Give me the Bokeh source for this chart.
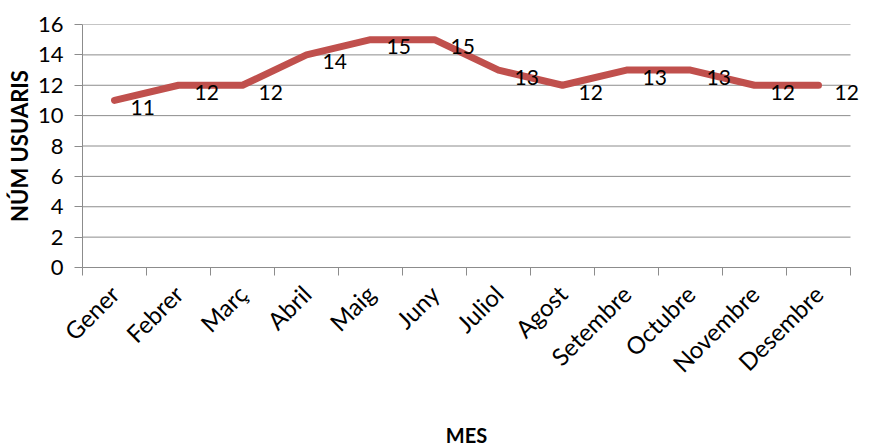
import numpy as np
from bokeh.plotting import figure
from bokeh.layouts import column
from bokeh.models import Range1d, FixedTicker, ColumnDataSource, LabelSet
from bokeh.core.properties import value
from bokeh.embed import file_html
from bokeh.resources import INLINE

months = ["Gener", "Febrer", "Març", "Abril", "Maig", "Juny", "Juliol",
          "Agost", "Setembre", "Octubre", "Novembre", "Desembre"]
users = [11, 12, 12, 14, 15, 15, 13, 12, 13, 13, 12, 12]
y_ticks = [0, 2, 4, 6, 8, 10, 12, 14, 16]

FONT = "Lato"
n = len(months)
xs = list(np.arange(n) + 0.5)

W = 870
LEFT = 82
CAT_PX = 64.0
x_end = (W - LEFT) / CAT_PX  # frame runs to right edge so the last label fits

p = figure(width=W, height=420, x_range=Range1d(0, x_end), y_range=Range1d(0, 16),
           output_backend="svg", toolbar_location=None,
           min_border_left=LEFT, min_border_right=0, min_border_top=24,
           min_border_bottom=153)
p.outline_line_color = None
p.background_fill_color = "white"
p.border_fill_color = "white"

grid_col = "#8C8C8C"
p.xgrid.visible = False
p.ygrid.visible = False
p.segment(x0=[0] * len(y_ticks), x1=[n] * len(y_ticks), y0=y_ticks, y1=y_ticks,
          line_color=grid_col, line_width=1)

p.line(xs, users, line_color="#C0504D", line_width=7,
       line_join="round", line_cap="round")

src = ColumnDataSource(dict(x=xs, y=users, t=[str(v) for v in users]))
labels = LabelSet(x="x", y="y", text="t", source=src, text_font=value(FONT),
                  text_font_size="21px", text_color="#000000", text_align="left",
                  text_baseline="middle", x_offset=16, y_offset=-7)
p.add_layout(labels)

ya = p.yaxis[0]
ya.ticker = FixedTicker(ticks=y_ticks)
ya.axis_line_color = grid_col
ya.major_tick_line_color = grid_col
ya.major_tick_out = 8
ya.major_tick_in = 0
ya.minor_tick_line_color = None
ya.major_label_text_font = FONT
ya.major_label_text_font_size = "22px"
ya.major_label_text_color = "#000000"
ya.major_label_standoff = 11
ya.axis_label = "NÚM USUARIS"
ya.axis_label_text_font = FONT
ya.axis_label_text_font_style = "bold"
ya.axis_label_text_font_size = "22px"
ya.axis_label_text_color = "#000000"
ya.axis_label_standoff = 2

xa = p.xaxis[0]
xa.bounds = (0, n)
xa.ticker = FixedTicker(ticks=xs, minor_ticks=list(range(n + 1)))
xa.major_label_overrides = {x: m for x, m in zip(xs, months)}
xa.axis_line_color = grid_col
xa.major_tick_line_color = None
xa.minor_tick_line_color = grid_col
xa.minor_tick_out = 8
xa.minor_tick_in = 0
xa.major_label_orientation = np.pi / 4
xa.major_label_text_font = FONT
xa.major_label_text_font_size = "24px"
xa.major_label_text_color = "#000000"
xa.major_label_standoff = 14

# strip holding the x-axis title "MES" below the chart (shares the x scale)
p2 = figure(width=W, height=26, x_range=p.x_range, y_range=Range1d(0, 26),
            output_backend="svg", toolbar_location=None,
            x_axis_location=None, y_axis_location=None,
            min_border_left=0, min_border_right=0, min_border_top=0, min_border_bottom=0)
p2.grid.visible = False
p2.outline_line_color = None
p2.text(x=[n / 2], y=[12], text=["MES"], text_font=value(FONT),
        text_font_style="bold", text_font_size="20px", text_color="#000000",
        text_align="center", text_baseline="middle")

layout = column(p, p2, spacing=0)
open("out.html", "w").write(file_html(layout, INLINE))
